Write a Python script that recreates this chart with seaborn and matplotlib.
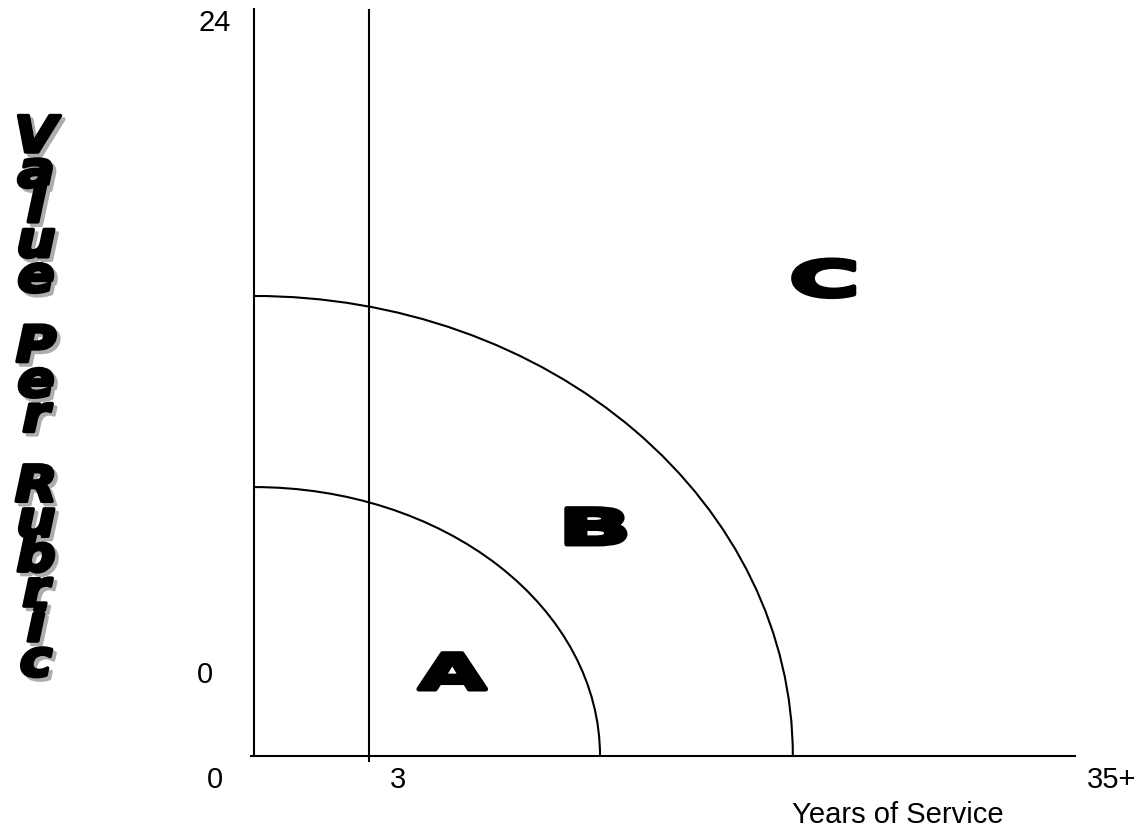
import numpy as np
import matplotlib
matplotlib.use("Agg")
import matplotlib.pyplot as plt
import matplotlib.patheffects as pe
import matplotlib.colors as mcolors
from matplotlib.patches import Arc
from matplotlib.transforms import Affine2D
import seaborn as sns

# chart values (axis units: years of service 0..35, rubric value 0..24)
x_max = 35
y_max = 24
probation_years = 4.9
arc_x_radii = [14.75, 22.97]
arc_y_radii = [8.64, 14.78]
zone_names = ["A", "B", "C"]
zone_x = [8.45, 14.55, 24.3]
zone_base_y = [2.15, 6.81, 14.78]
x_tick_text = ["0", "3", "35+"]
y_tick_text = ["0", "24"]
x_title = "Years of Service"
y_title = "Value Per Rubric"

# label layout (data coords)
x_tick_pos = [-1.66, 6.14, 36.58]
y_tick_pos = [(-2.09, 2.38), (-1.68, 23.33)]
zone_stretch = [1.8, 2.0, 2.0]


class Glyph(pe.AbstractPathEffect):
    """Draw text glyphs widened about their centre, thickened by a stroke."""

    def __init__(self, sx=1.0, lw=0.0, color=None, offset=(0, 0)):
        super().__init__(offset=offset)
        self.sx = sx
        self.lw = lw
        self.color = color

    def draw_path(self, renderer, gc, tpath, affine, rgbFace=None):
        ext = tpath.get_extents()
        cx = (ext.x0 + ext.x1) / 2
        t = (Affine2D().translate(-cx, 0).scale(self.sx, 1).translate(cx, 0)
             + affine + self._offset_transform(renderer))
        face = rgbFace if self.color is None else mcolors.to_rgba(self.color)
        gc0 = renderer.new_gc()
        gc0.copy_properties(gc)
        gc0.set_foreground(face)
        gc0.set_linewidth(self.lw)
        gc0.set_joinstyle("round")
        renderer.draw_path(gc0, tpath, t, face)
        gc0.restore()


sns.set_theme(style="white")
plt.rcParams["font.family"] = ["Liberation Sans", "DejaVu Sans"]
plt.rcParams["text.color"] = "black"

W, H = 1144, 828
fig = plt.figure(figsize=(W / 100, H / 100), dpi=100)
ax = fig.add_axes([251 / W, 71 / H, 824 / W, 747 / H])
ax.set_xlim(-0.13, x_max)
ax.set_ylim(0, y_max)
ax.set_xticks([])
ax.set_yticks([])
sns.despine(ax=ax)
ax.spines["left"].set_position(("data", 0))
for side in ["left", "bottom"]:
    ax.spines[side].set_color("black")
    ax.spines[side].set_linewidth(1.5)

# early career line
ax.vlines(probation_years, -0.2, y_max, color="black", lw=1.5, clip_on=False)

# zone boundaries
for rx, ry in zip(arc_x_radii, arc_y_radii):
    ax.add_patch(Arc((0, 0), 2 * rx, 2 * ry, theta1=0, theta2=90,
                     color="black", lw=1.5))

# zone letters
for name, zx, zy, sx in zip(zone_names, zone_x, zone_base_y, zone_stretch):
    ax.text(zx, zy, name, ha="center", va="baseline", fontsize=35,
            family="DejaVu Sans", fontweight="bold", color="black",
            path_effects=[Glyph(sx=sx, lw=3.5)])

# axis numbers
for txt, xp in zip(x_tick_text, x_tick_pos):
    ax.text(xp, -1.0, txt, ha="center", va="baseline", fontsize=21,
            color="black", clip_on=False)
for txt, (xp, yp) in zip(y_tick_text, y_tick_pos):
    ax.text(xp, yp, txt, ha="center", va="baseline", fontsize=21,
            color="black", clip_on=False)
ax.text(27.43, -2.12, x_title, ha="center", va="baseline", fontsize=21,
        color="black", clip_on=False)

# stacked, shadowed y title, one letter per row
title_fx = [Glyph(sx=1.1, lw=2.5, color="0.68", offset=(2.5, -2.5)),
            Glyph(sx=1.1, lw=2.5)]
for i, ch in enumerate(y_title):
    if ch == " ":
        continue
    fig.text(36 / W, 1 - (153 + i * 34.93) / H, ch, ha="center", va="baseline",
             fontsize=36, family="DejaVu Sans", fontweight="bold",
             style="italic", color="black", path_effects=title_fx)

fig.savefig("out.png", dpi=100)
